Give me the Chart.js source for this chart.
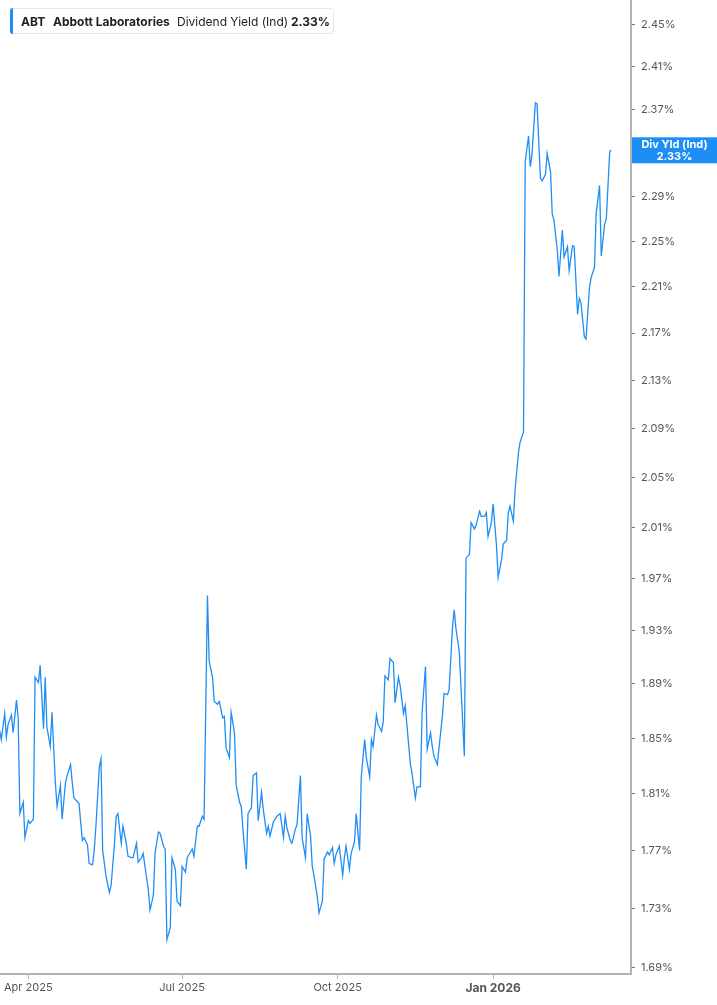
<!DOCTYPE html>
<html>
<head>
<meta charset="utf-8">
<title>ABT Dividend Yield</title>
<script src="https://cdn.jsdelivr.net/npm/chart.js@4.4.1/dist/chart.umd.min.js"></script>
<style>
  html, body { margin: 0; padding: 0; background: #fff; }
  #wrap { position: relative; width: 717px; height: 1005px; }
  #legend {
    position: absolute; left: 10px; top: 8px; width: 322px; height: 24px;
    border: 1px solid #e6e6e6; border-radius: 3px; background: #fff;
    font-family: Inter, "Open Sans", sans-serif; font-size: 12px; color: #222;
  }
  #legend .bar { position: absolute; left: -1px; top: -1px; width: 3px; height: 26px; background: #1e8ef5; border-radius: 3px 0 0 3px; }
  #legend span { position: absolute; top: 5px; white-space: nowrap; }
  #legend .b { font-weight: 700; }
</style>
</head>
<body>
<div id="wrap">
  <canvas id="myChart" width="717" height="1005"></canvas>
  <div id="legend">
    <div class="bar"></div>
    <span class="b" style="left:10px">ABT</span>
    <span class="b" style="left:42px">Abbott Laboratories</span>
    <span style="left:166px">Dividend Yield (Ind)</span>
    <span class="b" style="left:280px">2.33%</span>
  </div>
</div>
<script>
// days counted from 1 Apr 2025, one entry per trading day
var dayOffsets = [
  -17,-16,-14,-13,-12,-10,-9,-7,-6,-5,
  -3,-2,0,1,3,4,6,7,9,10,
  11,13,14,16,17,19,20,22,23,25,
  26,27,30,32,33,35,36,38,39,40,
  42,43,44,46,48,49,51,52,53,55,
  56,58,59,61,62,64,65,67,68,69,
  71,72,74,75,77,78,80,81,82,84,
  85,87,88,90,91,93,94,96,97,98,
  100,101,103,104,106,107,109,110,112,113,
  115,116,117,119,120,122,123,125,126,127,
  129,130,132,133,135,136,138,139,141,142,
  143,145,147,148,149,151,152,153,155,156,
  158,159,161,162,164,165,167,168,169,171,
  172,174,175,177,178,180,181,182,184,186,
  187,188,190,191,193,194,196,197,199,200,
  202,203,204,206,207,209,210,211,213,214,
  216,217,219,220,222,223,224,226,227,229,
  230,232,233,235,236,238,239,240,242,243,
  245,246,248,249,251,252,253,255,256,258,
  259,261,262,264,265,267,268,270,271,272,
  274,275,277,278,280,281,283,284,285,287,
  288,290,291,293,294,296,297,298,300,301,
  303,304,306,307,309,310,311,313,314,316,
  317,319,320,322,323,325,326,327,329,330,
  332,333,335,336,338,339,341,342,344,345
];

// dividend yield (%)
var yieldValues = [
  1.856,1.849,1.868,1.851,1.860,1.867,1.854,1.878,1.865,1.796,
  1.804,1.779,1.791,1.789,1.792,1.895,1.891,1.904,1.857,1.895,
  1.858,1.844,1.869,1.818,1.801,1.816,1.792,1.818,1.823,1.831,
  1.818,1.807,1.803,1.777,1.779,1.774,1.761,1.760,1.770,1.787,
  1.829,1.835,1.770,1.752,1.741,1.746,1.775,1.794,1.796,1.775,
  1.787,1.775,1.766,1.765,1.765,1.775,1.762,1.765,1.768,1.759,
  1.743,1.729,1.739,1.768,1.783,1.782,1.773,1.771,1.709,1.717,
  1.765,1.757,1.735,1.732,1.759,1.755,1.765,1.769,1.771,1.766,
  1.787,1.787,1.794,1.792,1.957,1.907,1.895,1.877,1.875,1.877,
  1.865,1.866,1.843,1.836,1.869,1.854,1.816,1.804,1.801,1.785,
  1.757,1.796,1.800,1.823,1.825,1.791,1.811,1.799,1.782,1.787,
  1.780,1.790,1.794,1.795,1.796,1.779,1.794,1.786,1.777,1.775,
  1.785,1.788,1.823,1.779,1.765,1.796,1.780,1.759,1.753,1.738,
  1.727,1.735,1.764,1.769,1.767,1.772,1.761,1.767,1.773,1.753,
  1.765,1.773,1.757,1.768,1.776,1.796,1.770,1.822,1.849,1.836,
  1.822,1.849,1.844,1.867,1.860,1.855,1.862,1.896,1.893,1.909,
  1.906,1.876,1.895,1.889,1.868,1.874,1.860,1.832,1.825,1.807,
  1.815,1.815,1.869,1.903,1.842,1.854,1.844,1.837,1.831,1.843,
  1.866,1.883,1.882,1.886,1.933,1.946,1.932,1.914,1.888,1.837,
  1.986,1.989,2.014,2.009,2.012,2.023,2.019,2.019,2.022,2.003,
  2.014,2.029,1.996,1.971,1.985,1.997,2.000,2.022,2.027,2.015,
  2.040,2.070,2.079,2.087,2.322,2.345,2.317,2.328,2.376,2.375,
  2.307,2.304,2.310,2.329,2.312,2.274,2.269,2.242,2.219,2.260,
  2.236,2.245,2.224,2.246,2.245,2.186,2.200,2.196,2.167,2.165,
  2.209,2.218,2.227,2.275,2.300,2.237,2.265,2.270,2.331,2.332
];

var xTickDays = [0, 91, 183, 275];
var xTickLabels = ["Apr 2025", "Jul 2025", "Oct 2025", "Jan 2026"];
var yTickValues = [1.69, 1.73, 1.77, 1.81, 1.85, 1.89, 1.93, 1.97, 2.01, 2.05, 2.09,
                   2.13, 2.17, 2.21, 2.25, 2.29, 2.33, 2.37, 2.41, 2.45];

var lineColor = '#1e8ef5';
var axisColor = '#b3b3b3';

var points = dayOffsets.map(function(d, i) {
  return { x: d, y: yieldValues[i] };
});

// blue price tag on the right axis for the last value
var lastValueTag = {
  id: 'lastValueTag',
  afterDraw: function(chart) {
    var ctx = chart.ctx;
    var yScale = chart.scales.y;
    var last = yieldValues[yieldValues.length - 1];
    var y = yScale.getPixelForValue(last);
    var left = chart.chartArea.right + 1;
    ctx.save();
    ctx.fillStyle = lineColor;
    ctx.fillRect(left, y - 13, chart.width - left, 26);
    ctx.fillStyle = '#fff';
    ctx.textAlign = 'center';
    ctx.textBaseline = 'middle';
    ctx.font = 'bold 11px Inter, sans-serif';
    var cx = (left + chart.width) / 2;
    ctx.fillText('Div Yld (Ind)', cx, y - 6);
    ctx.fillText(last.toFixed(2) + '%', cx, y + 6);
    ctx.restore();
  }
};

var chart = new Chart(document.getElementById('myChart').getContext('2d'), {
  type: 'line',
  data: {
    datasets: [{
      label: 'Dividend Yield (Ind)',
      data: points,
      borderColor: lineColor,
      borderWidth: 1.3,
      pointRadius: 0,
      tension: 0,
      fill: false
    }]
  },
  options: {
    responsive: false,
    animation: false,
    layout: { padding: 0 },
    plugins: {
      legend: { display: false },
      tooltip: { enabled: false }
    },
    scales: {
      x: {
        type: 'linear',
        min: -16.75,
        max: 356.6,
        afterBuildTicks: function(scale) {
          scale.ticks = xTickDays.map(function(v) { return { value: v }; });
        },
        afterFit: function(scale) {
          scale.height = 31;
          scale.paddingLeft = 0;
          scale.paddingRight = 0;
        },
        grid: { drawOnChartArea: false, drawTicks: true, tickLength: 5, tickColor: axisColor },
        border: { display: true, color: axisColor, width: 2 },
        ticks: {
          maxRotation: 0,
          autoSkip: false,
          padding: 2,
          color: '#555',
          font: function(c) {
            if (c.tick && c.tick.value === 275) {
              return { family: 'Inter', size: 12, weight: 'bold' };
            }
            return { family: 'Inter', size: 11 };
          },
          callback: function(v) {
            var i = xTickDays.indexOf(v);
            return i >= 0 ? xTickLabels[i] : '';
          }
        }
      },
      y: {
        type: 'logarithmic',
        position: 'right',
        min: 1.686,
        max: 2.4742,
        afterBuildTicks: function(scale) {
          scale.ticks = yTickValues.map(function(v) { return { value: v }; });
        },
        afterFit: function(scale) {
          scale.width = 86;
          scale.paddingTop = 0;
          scale.paddingBottom = 0;
        },
        grid: { drawOnChartArea: false, drawTicks: true, tickLength: 4, tickColor: '#777' },
        border: { display: true, color: axisColor, width: 2 },
        ticks: {
          padding: 6,
          color: '#555',
          font: { family: 'Inter', size: 11 },
          callback: function(v) { return Number(v).toFixed(2) + '%'; }
        }
      }
    }
  },
  plugins: [lastValueTag]
});
</script>
</body>
</html>
